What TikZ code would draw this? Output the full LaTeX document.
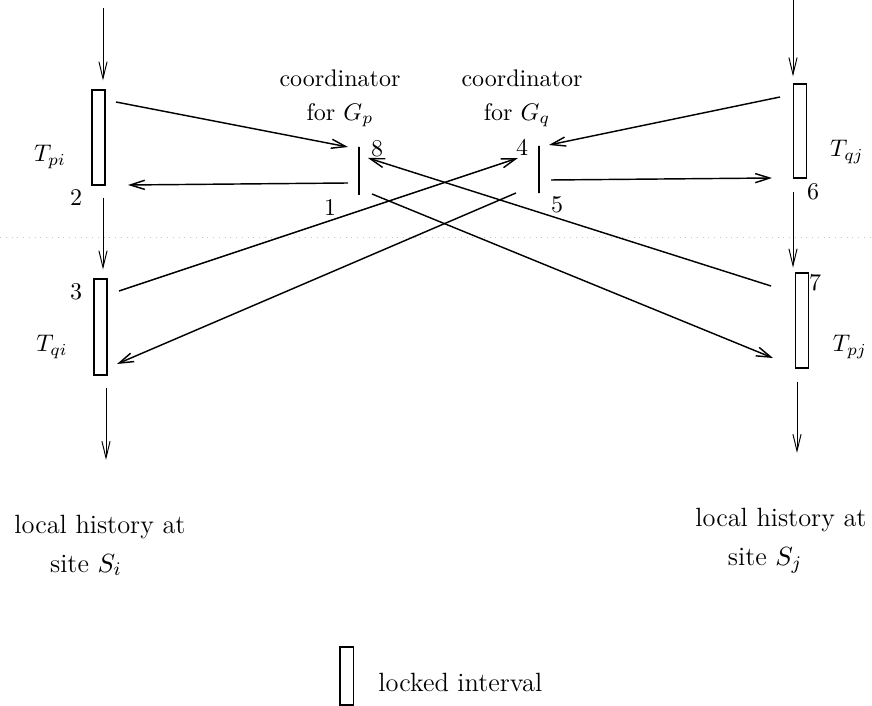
\documentclass[tikz,border=0pt]{standalone}
\usetikzlibrary{arrows.meta}
\tikzset{
  lockbox/.style={draw, line width=0.5pt, inner sep=0pt, minimum width=5.5pt},
  cbar/.style={draw, line width=0.6pt, inner sep=0pt, minimum width=0pt, minimum height=20pt},
  msg/.style={line width=0.6pt, -{Straight Barb[length=6pt,width=3.8pt]}},
  timeline/.style={line width=0.4pt, -{Straight Barb[length=7pt,width=3.4pt]}},
  sitetext/.style={font=\fontsize{11}{13}\selectfont},
}
\begin{document}
\begin{tikzpicture}[x=0.4167pt, y=-0.4167pt]
  \useasboundingbox (0,0) rectangle (872,706);

  % faint scan line
  \draw[gray!45, dotted] (0,237) -- (872,237);

  % Locked intervals at site S_i
  \node[lockbox, minimum height=39.6pt] (Tpi) at (98.5,137.5) {};
  \node[lockbox, minimum height=40pt] (Tqi) at (100.5,327) {};
  \node (Lpi) at (50,157) {$T_{pi}$};
  \node (Lqi) at (52,347) {$T_{qi}$};

  % Locked intervals at site S_j
  \node[lockbox, minimum height=39.2pt] (Tqj) at (800,131) {};
  \node[lockbox, minimum height=39.6pt] (Tpj) at (802,320.5) {};
  \node (Lqj) at (847,152) {$T_{qj}$};
  \node (Lpj) at (850,347) {$T_{pj}$};

  % Time axes
  \coordinate (Si-start) at (103,8);
  \coordinate (Si-end) at (106,460);
  \draw[timeline, shorten >=3.7pt] (Si-start) -- (Si-start |- Tpi.north);
  \draw[timeline, shorten <=5pt, shorten >=3.7pt] (Tpi.south -| Si-start) -- (Tqi.north -| Si-start);
  \draw[timeline, shorten <=5pt] (Tqi.south -| Si-end) -- (Si-end);

  \coordinate (Sj-start) at (793,0);
  \coordinate (Sj-end) at (797,453);
  \draw[timeline, shorten >=2.9pt] (Sj-start) -- (Sj-start |- Tqj.north);
  \draw[timeline, shorten <=5.4pt, shorten >=2pt] (Tqj.south -| Sj-start) -- (Tpj.north -| Sj-start);
  \draw[timeline, shorten <=5.4pt] (Tpj.south -| Sj-end) -- (Sj-end);

  % Coordinators
  \node[cbar] (Gp) at (359,171) {};
  \node[cbar, minimum height=19.6pt] (Gq) at (539,169.5) {};
  \node (Gp-name) at (340,78) {coordinator};
  \node (Gp-for) at (340,115) {for $G_p$};
  \node (Gq-name) at (522,78) {coordinator};
  \node (Gq-for) at (517,115) {for $G_q$};

  % Message ports
  \coordinate (Tpi-out) at (116,102);
  \coordinate (Tpi-in)  at (128,185);
  \coordinate (Tqi-out) at (119,291);
  \coordinate (Tqi-in)  at (117,364);
  \coordinate (Tqj-out) at (780,97);
  \coordinate (Tqj-in)  at (772,178);
  \coordinate (Tpj-out) at (771,286);
  \coordinate (Tpj-in)  at (773,358);
  \coordinate (Gp-in)   at (348,147);
  \coordinate (Gp-out)  at (348,183);
  \coordinate (Gp-in2)  at (368,158);
  \coordinate (Gp-out2) at (372,194);
  \coordinate (Gq-in)   at (549,145);
  \coordinate (Gq-out)  at (551,180);
  \coordinate (Gq-in2)  at (518,158);
  \coordinate (Gq-out2) at (516,193);

  % Messages
  \draw[msg] (Tpi-out) -- (Gp-in);
  \draw[msg] (Gp-out) -- (Tpi-in);
  \draw[msg] (Tqi-out) -- (Gq-in2);
  \draw[msg] (Gq-out2) -- (Tqi-in);
  \draw[msg] (Tqj-out) -- (Gq-in);
  \draw[msg] (Gq-out) -- (Tqj-in);
  \draw[msg] (Tpj-out) -- (Gp-in2);
  \draw[msg] (Gp-out2) -- (Tpj-in);

  % Step numbers
  \node (n1) at (330,208) {1};
  \node (n2) at (76,198) {2};
  \node (n3) at (76,292) {3};
  \node (n4) at (522,147) {4};
  \node (n5) at (557,205) {5};
  \node (n6) at (813,192) {6};
  \node (n7) at (815,283) {7};
  \node (n8) at (377,149) {8};

  % Site labels
  \node[sitetext] (hist-i) at (100,527) {local history at};
  \node[sitetext] (site-i) at (86,565) {site $S_i$};
  \node[sitetext] (hist-j) at (781,520) {local history at};
  \node[sitetext] (site-j) at (765,560) {site $S_j$};

  % Legend
  \node[lockbox, minimum height=24.2pt] (legend) at (346.5,676) {};
  \node[sitetext, anchor=west] (legend-text) at (370,682) {locked interval};
\end{tikzpicture}
\end{document}
